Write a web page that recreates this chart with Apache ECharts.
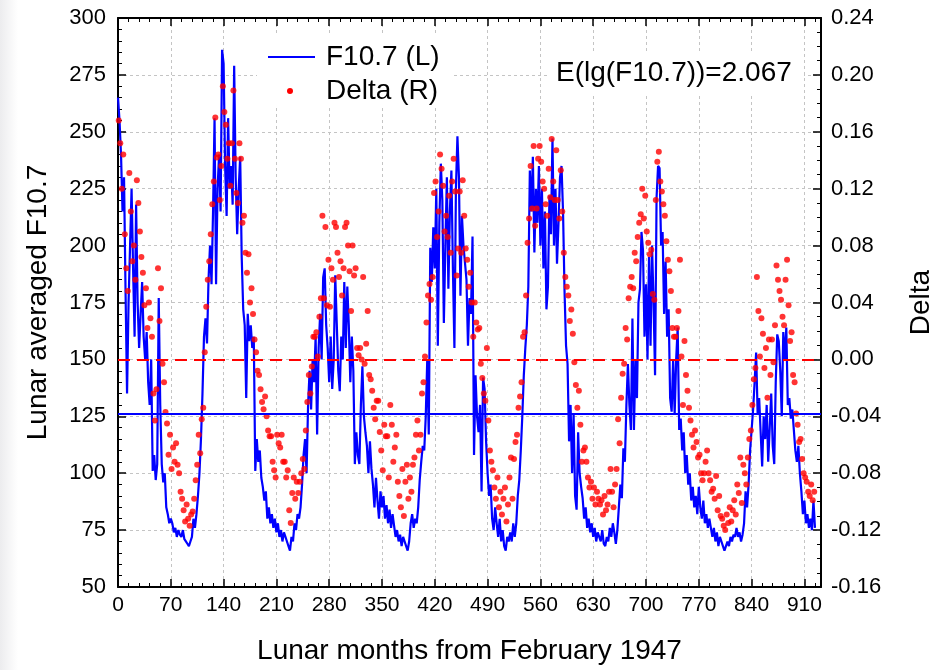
<!DOCTYPE html>
<html>
<head>
<meta charset="utf-8">
<script src="https://cdn.jsdelivr.net/npm/echarts@6/dist/echarts.min.js"></script>
<style>
  html, body { margin: 0; padding: 0; background: #fff; }
  #chart { width: 943px; height: 670px; }
</style>
</head>
<body>
<div id="chart"></div>
<script>
// lunar month step between stored values
const STEP = 2;
const f107Start = 0;   // F10.7 values at months 0, 2, 4, ...
const deltaStart = 1;  // Delta values at months 1, 3, 5, ...

// lunar averaged F10.7 (left axis)
const f107 = [
  265,255,240,215,230,180,135,175,200,225,
  190,160,218,175,155,170,184,160,150,162,
  140,130,150,101,108,97,104,177,130,104,
  96,100,85,82,78,80,78,74,76,72,
  75,73,72,75,71,70,69,68,70,72,
  80,76,82,90,100,115,135,160,168,157,
  185,200,183,215,256,183,225,240,215,286,
  280,235,213,256,225,235,218,279,230,205,
  225,239,195,172,165,133,170,158,165,155,
  160,101,115,105,110,98,94,88,92,80,
  85,78,82,76,80,74,78,72,75,70,
  74,72,70,68,66,72,70,78,75,82,
  80,85,95,108,115,100,130,145,128,150,
  140,160,117,155,170,150,186,190,165,155,
  140,160,137,150,187,166,145,136,160,150,
  184,155,182,165,140,160,145,104,118,108,
  104,130,147,125,118,112,100,114,102,95,
  85,98,88,80,92,85,90,80,86,78,
  84,76,82,77,72,75,70,73,68,72,
  70,68,66,70,78,82,76,80,78,85,
  97,105,112,110,125,150,117,199,184,208,
  190,225,156,210,236,220,166,200,230,181,
  215,233,190,155,225,248,230,178,213,200,
  200,185,156,177,170,204,108,143,125,118,
  130,92,142,137,114,100,90,95,80,75,
  85,78,72,80,70,75,68,66,72,70,
  74,70,78,72,78,90,97,110,125,143,
  155,165,182,233,215,239,197,225,210,235,
  200,225,190,215,172,182,222,205,247,200,
  225,192,210,230,235,215,180,156,148,114,
  130,100,126,90,84,118,100,94,89,80,
  85,76,80,74,78,72,76,70,74,72,
  70,75,69,68,72,70,76,72,78,74,
  69,75,85,95,89,111,105,130,148,130,
  119,168,119,150,133,175,181,206,198,160,
  183,150,195,156,200,175,143,221,235,234,
  200,206,170,193,160,172,133,127,150,126,
  150,164,119,124,110,118,100,108,95,100,
  88,94,85,90,82,94,85,80,88,78,
  82,76,80,76,72,76,70,74,68,72,
  70,68,66,68,70,68,72,70,73,72,
  76,72,74,70,73,78,92,85,95,110,
  119,128,140,153,126,133,118,103,125,115,
  130,105,120,135,112,104,140,161,158,145,
  125,162,150,164,130,133,124,128,119,110,
  105,112,100,92,82,88,78,82,76,80,
  75,88,76
];

// Delta (right axis)
const delta = [
  0.168,0.152,0.120,0.144,0.088,0.064,0.048,0.131,0.104,0.069,
  0.080,0.056,0.126,0.110,0.090,0.072,0.061,0.038,0.050,0.022,
  0.040,0.029,0.016,-0.024,-0.043,-0.021,0.064,0.027,0.050,-0.003,
  -0.016,-0.037,-0.045,-0.067,-0.053,-0.077,-0.062,-0.072,-0.059,-0.074,
  -0.080,-0.093,-0.098,-0.106,-0.114,-0.102,-0.112,-0.117,-0.109,-0.107,
  -0.098,-0.085,-0.074,-0.053,-0.066,-0.042,-0.034,0.005,0.037,0.056,
  0.069,0.088,0.109,0.125,0.170,0.142,0.144,0.112,0.136,0.192,
  0.174,0.165,0.141,0.152,0.122,0.152,0.189,0.141,0.117,0.110,
  0.152,0.141,0.096,0.101,0.075,0.061,0.074,0.040,0.050,0.032,
  0.014,0.005,-0.008,-0.011,-0.021,-0.030,-0.035,-0.026,-0.040,-0.050,
  -0.054,-0.054,-0.072,-0.078,-0.083,-0.053,-0.059,-0.062,-0.053,-0.072,
  -0.072,-0.083,-0.078,-0.106,-0.115,-0.094,-0.083,-0.098,-0.086,-0.094,
  -0.086,-0.080,-0.070,-0.077,-0.050,-0.030,-0.011,-0.024,-0.005,0.016,
  0.016,0.019,0.002,0.030,0.043,0.101,0.043,0.093,0.038,0.070,
  0.037,0.064,0.056,0.096,0.093,0.075,0.058,0.069,0.045,0.064,
  0.093,0.096,0.080,0.062,0.034,0.080,0.059,0.064,0.008,0.003,
  0.008,0.000,0.058,-0.003,0.011,0.034,-0.011,-0.014,-0.022,-0.034,
  -0.042,-0.029,-0.029,-0.051,-0.064,-0.078,-0.046,-0.054,-0.054,-0.083,
  -0.032,-0.046,-0.072,-0.062,-0.053,-0.086,-0.096,-0.104,-0.077,-0.110,
  -0.086,-0.074,-0.098,-0.083,-0.093,-0.074,-0.069,-0.053,-0.043,-0.064,
  -0.053,-0.024,-0.016,0.002,0.026,0.045,0.053,0.042,0.058,0.117,
  0.125,0.086,0.104,0.144,0.134,0.122,0.090,0.101,0.086,0.115,
  0.075,0.125,0.141,0.118,0.059,0.078,0.118,0.075,0.126,0.101,
  0.078,0.070,0.051,0.061,0.040,0.016,0.040,0.026,0.021,0.022,
  -0.003,-0.013,-0.024,-0.029,0.008,-0.043,-0.064,-0.072,-0.078,-0.090,
  -0.098,-0.083,-0.104,-0.093,-0.109,-0.098,-0.090,-0.114,-0.102,-0.083,
  -0.069,-0.098,-0.070,-0.058,-0.053,-0.034,-0.026,-0.016,0.016,0.019,
  0.045,0.082,0.099,0.136,0.106,0.150,0.094,0.106,0.141,0.150,
  0.139,0.125,0.120,0.109,0.101,0.134,0.114,0.155,0.125,0.112,
  0.147,0.112,0.099,0.133,0.104,0.075,0.058,0.051,0.045,0.027,
  0.035,0.018,-0.002,-0.018,-0.034,-0.022,-0.046,-0.072,-0.064,-0.062,
  -0.072,-0.083,-0.090,-0.086,-0.098,-0.090,-0.102,-0.093,-0.098,-0.102,
  -0.099,-0.109,-0.096,-0.106,-0.102,-0.093,-0.077,-0.093,-0.104,-0.088,
  -0.077,-0.042,-0.059,-0.027,-0.010,-0.003,0.022,0.014,0.043,0.051,
  0.058,0.050,0.075,0.069,0.086,0.096,0.102,0.120,0.099,0.115,
  0.090,0.082,0.074,0.077,0.046,0.042,0.112,0.139,0.146,0.125,
  0.118,0.109,0.101,0.083,0.070,0.062,0.048,0.022,0.016,0.016,
  0.022,0.034,0.070,0.002,-0.032,0.013,-0.011,-0.022,-0.034,-0.043,
  -0.053,-0.062,-0.050,-0.058,-0.069,-0.067,-0.080,-0.085,-0.080,-0.072,
  -0.064,-0.080,-0.085,-0.093,-0.091,-0.098,-0.082,-0.106,-0.096,-0.110,
  -0.112,-0.117,-0.120,-0.109,-0.115,-0.104,-0.114,-0.106,-0.099,-0.109,
  -0.088,-0.094,-0.069,-0.101,-0.074,-0.080,-0.088,-0.069,-0.056,-0.050,
  -0.032,-0.014,-0.006,0.058,0.034,0.002,0.029,0.018,-0.006,0.008,
  -0.027,0.014,-0.011,0.014,-0.002,0.024,0.066,0.056,0.048,0.042,
  0.030,0.024,0.056,0.070,0.038,0.013,0.019,-0.011,-0.016,-0.038,
  -0.046,-0.058,-0.056,-0.070,-0.080,-0.083,-0.086,-0.093,-0.096,-0.088,
  -0.099,-0.093
];

// axes
const xMin = 0, xMax = 932, xStep = 70;
const leftMin = 50, leftMax = 300, leftStep = 25;
const rightMin = -0.16, rightMax = 0.24, rightStep = 0.04;

// reference levels
const meanF107 = 126;
const deltaZero = 0;
const meanLabel = 'E(lg(F10.7))=2.067';

const FONT = 'Liberation Sans, Arial, sans-serif';

const chart = echarts.init(document.getElementById('chart'));

const f107Data = f107.map((v, i) => [f107Start + i * STEP, v]);
const deltaData = delta.map((v, i) => [deltaStart + i * STEP, v]);

const frameLine = { show: true, onZero: false, lineStyle: { color: '#000', width: 2 } };
const tickIn = { show: true, inside: true, length: 8, lineStyle: { color: '#000', width: 1.5 } };
const dashGrid = { show: true, lineStyle: { color: '#c4c4c4', type: [3, 3], width: 1 } };

let option = {
  animation: false,
  backgroundColor: '#fff',
  grid: { left: 118, right: 115, top: 18, bottom: 80, containLabel: false },
  xAxis: [
    {
      type: 'value', min: xMin, max: xMax, interval: xStep, position: 'bottom',
      name: 'Lunar months from February 1947', nameLocation: 'middle', nameGap: 50,
      nameTextStyle: { fontSize: 28, color: '#000', fontFamily: FONT },
      axisLine: frameLine, axisTick: tickIn,
      minorTick: { show: true, splitNumber: 5, length: 4, lineStyle: { color: '#000' } },
      axisLabel: { fontSize: 21, color: '#000', fontFamily: FONT, margin: 8, showMaxLabel: false },
      splitLine: dashGrid
    },
    {
      type: 'value', min: xMin, max: xMax, interval: xStep, position: 'top',
      axisLine: frameLine, axisTick: tickIn,
      minorTick: { show: true, splitNumber: 5, length: 4, lineStyle: { color: '#000' } },
      axisLabel: { show: false }, splitLine: { show: false }
    }
  ],
  yAxis: [
    {
      type: 'value', min: leftMin, max: leftMax, interval: leftStep, position: 'left',
      name: 'Lunar averaged F10.7', nameLocation: 'middle', nameGap: 66,
      nameTextStyle: { fontSize: 28, color: '#000', fontFamily: FONT },
      axisLine: frameLine, axisTick: tickIn,
      minorTick: { show: true, splitNumber: 5, length: 4, lineStyle: { color: '#000' } },
      axisLabel: { fontSize: 22, color: '#000', fontFamily: FONT, margin: 12 },
      splitLine: dashGrid
    },
    {
      type: 'value', min: rightMin, max: rightMax, interval: rightStep, position: 'right',
      name: 'Delta', nameLocation: 'middle', nameGap: 86, nameRotate: 90,
      nameTextStyle: { fontSize: 28, color: '#000', fontFamily: FONT },
      axisLine: frameLine, axisTick: tickIn,
      minorTick: { show: true, splitNumber: 4, length: 4, lineStyle: { color: '#000' } },
      axisLabel: {
        fontSize: 22, color: '#000', fontFamily: FONT, margin: 10,
        formatter: v => v.toFixed(2)
      },
      splitLine: { show: false }
    }
  ],
  series: [
    {
      name: 'F10.7 (L)', type: 'line', data: f107Data,
      xAxisIndex: 0, yAxisIndex: 0, showSymbol: false, z: 2,
      lineStyle: { color: '#0000ff', width: 2.2 },
      markLine: {
        silent: true, symbol: ['none', 'none'], label: { show: false },
        lineStyle: { color: '#0000ff', width: 2, type: 'solid' },
        data: [{ yAxis: meanF107 }]
      }
    },
    {
      name: 'Delta (R)', type: 'scatter', data: deltaData,
      xAxisIndex: 0, yAxisIndex: 1, symbolSize: 6, z: 3,
      itemStyle: { color: '#ff0000' },
      markLine: {
        silent: true, symbol: ['none', 'none'], label: { show: false },
        lineStyle: { color: '#ff0000', width: 2, type: [12, 7] },
        data: [{ yAxis: deltaZero }]
      }
    }
  ],
  graphic: [
    {
      type: 'rect', left: 0, top: 0, z: -1, silent: true,
      shape: { width: 18, height: 670 },
      style: {
        fill: new echarts.graphic.LinearGradient(0, 0, 1, 0, [
          { offset: 0, color: '#ececee' }, { offset: 1, color: '#ffffff' }
        ])
      }
    },
    // legend box
    { type: 'rect', z: 50, silent: true, shape: { x: 257, y: 36, width: 196, height: 72 }, style: { fill: '#fff' } },
    { type: 'line', z: 51, silent: true, shape: { x1: 268, y1: 57, x2: 315, y2: 57 }, style: { stroke: '#0000ff', lineWidth: 2 } },
    { type: 'circle', z: 51, silent: true, shape: { cx: 290, cy: 91, r: 3 }, style: { fill: '#ff0000' } },
    { type: 'text', z: 51, silent: true, x: 326, y: 57, style: { text: 'F10.7 (L)', font: '28px ' + FONT, fill: '#000', textVerticalAlign: 'middle', verticalAlign: 'middle' } },
    { type: 'text', z: 51, silent: true, x: 326, y: 91, style: { text: 'Delta (R)', font: '28px ' + FONT, fill: '#000', textVerticalAlign: 'middle', verticalAlign: 'middle' } },
    // mean annotation
    { type: 'rect', z: 50, silent: true, shape: { x: 548, y: 52, width: 256, height: 42 }, style: { fill: '#fff' } },
    { type: 'text', z: 51, silent: true, x: 556, y: 73, style: { text: meanLabel, font: '28px ' + FONT, fill: '#000', textVerticalAlign: 'middle', verticalAlign: 'middle' } }
  ]
};

option && chart.setOption(option);
</script>
</body>
</html>
